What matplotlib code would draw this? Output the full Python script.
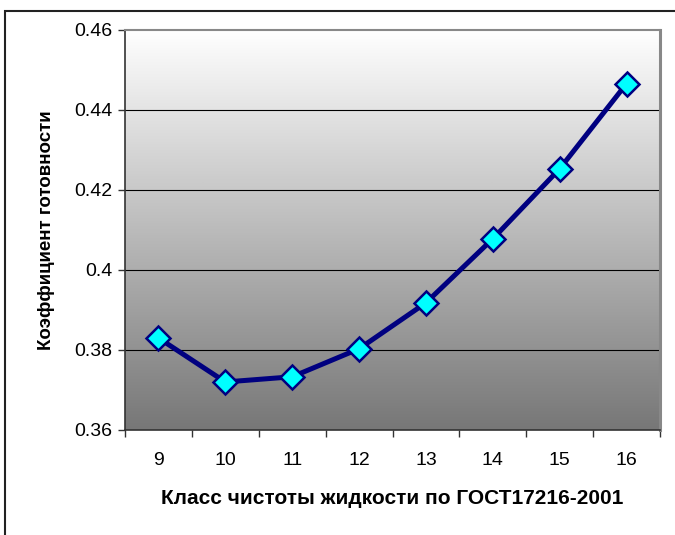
import numpy as np
import matplotlib.pyplot as plt
from matplotlib.colors import LinearSegmentedColormap
from matplotlib.patches import Rectangle

# Класс чистоты жидкости и коэффициент готовности
classes = [9, 10, 11, 12, 13, 14, 15, 16]
readiness = [0.383, 0.372, 0.3733, 0.3803, 0.3918, 0.4078, 0.4253, 0.4466]

plt.rcParams['font.family'] = ['Liberation Sans', 'DejaVu Sans']

fig = plt.figure(figsize=(6.75, 5.35), dpi=100)
# chart frame, open past the right and bottom edges
fig.patches.append(Rectangle((0.0074, -0.02), 1.1, 0.9993, transform=fig.transFigure,
                             fill=False, edgecolor='#222222', linewidth=1.5))

ax = fig.add_axes([0.1852, 0.1963, 0.7926, 0.7477])
x = np.arange(len(classes))

# vertical gradient background: white at top, gray at bottom
grad = np.linspace(0, 1, 256).reshape(-1, 1)
bg = LinearSegmentedColormap.from_list('bg', ['#ffffff', '#777777'])
ax.imshow(grad, extent=[-0.5, len(classes) - 0.5, 0.36, 0.46], aspect='auto',
          cmap=bg, origin='upper', zorder=0)

ax.set_xlim(-0.5, len(classes) - 0.5)
ax.set_ylim(0.36, 0.46)

for yv in [0.38, 0.40, 0.42, 0.44]:
    ax.axhline(yv, color='black', linewidth=0.8, zorder=1)

ax.plot(x, readiness, color='#000080', linewidth=3.6, marker='D', markersize=12.5,
        markerfacecolor='#00ffff', markeredgecolor='#000080', markeredgewidth=1.8,
        zorder=3, clip_on=False)

ax.set_yticks([0.36, 0.38, 0.40, 0.42, 0.44, 0.46])
ax.set_yticklabels(['0.36', '0.38', '0.4', '0.42', '0.44', '0.46'])
ax.set_xticks(np.arange(-0.5, len(classes), 1.0))
ax.set_xticklabels([])
ax.set_xticks(x, minor=True)
ax.set_xticklabels([str(c) for c in classes], minor=True)
ax.tick_params(axis='x', which='minor', length=0, pad=16, labelsize=14)
ax.tick_params(axis='x', which='major', length=5, width=1, color='#333333')
ax.tick_params(axis='y', length=5, width=1, color='#333333', labelsize=14, pad=4)

ax.spines['left'].set_color('#333333')
ax.spines['left'].set_linewidth(1.2)
ax.spines['bottom'].set_color('#333333')
ax.spines['bottom'].set_linewidth(1.2)
ax.spines['top'].set_color('#888888')
ax.spines['top'].set_linewidth(1.5)
ax.spines['right'].set_color('#888888')
ax.spines['right'].set_linewidth(2.2)

ax.set_xlabel('Класс чистоты жидкости по ГОСТ17216-2001', fontsize=15,
              fontweight='bold', labelpad=14)
ax.set_ylabel('Коэффициент готовности', fontsize=13.5, fontweight='bold', labelpad=14)

fig.savefig('out.png', dpi=100)
